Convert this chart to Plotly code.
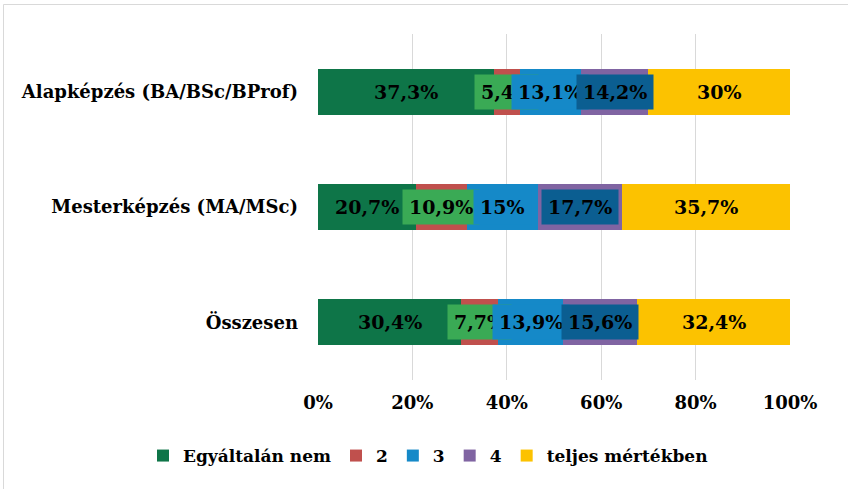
import plotly.graph_objects as go

categories = ["Alapképzés (BA/BSc/BProf)", "Mesterképzés (MA/MSc)", "Összesen"]
series_names = ["Egyáltalán nem", "2", "3", "4", "teljes mértékben"]
egyaltalan_nem = [37.3, 20.7, 30.4]
s2 = [5.4, 10.9, 7.7]
s3 = [13.1, 15.0, 13.9]
s4 = [14.2, 17.7, 15.6]
teljes = [30.0, 35.7, 32.4]
tick_vals = [0, 20, 40, 60, 80, 100]
tick_text = ["0%", "20%", "40%", "60%", "80%", "100%"]

values = [egyaltalan_nem, s2, s3, s4, teljes]
colors = ["#0E7548", "#C0504D", "#1589C8", "#8064A2", "#FCC200"]
label_bg = [None, "#3AAA55", "#1589C8", "#0B5E91", None]

FONT = "DejaVu Serif"

fig = go.Figure()
for name, vals, col in zip(series_names, values, colors):
    fig.add_trace(go.Bar(
        y=categories, x=vals, name="<b>" + name + "</b>", orientation="h",
        marker=dict(color=col, line=dict(width=0)),
        hoverinfo="skip",
    ))


def fmt(v):
    return f"{v:g}".replace(".", ",") + "%"


annotations = []
for ci, cat in enumerate(categories):
    cum = 0.0
    for si, vals in enumerate(values):
        v = vals[ci]
        center = cum + v / 2
        cum += v
        a = dict(x=center, y=cat, xref="x", yref="y", text="<b>" + fmt(v) + "</b>",
                 showarrow=False, font=dict(family=FONT, size=19, color="black"),
                 borderpad=6)
        if label_bg[si]:
            a["bgcolor"] = label_bg[si]
        annotations.append(a)

# layout geometry (pixels)
L, R, T, B = 318, 58, 34, 109
W, H = 848, 489
pw, ph = W - L - R, H - T - B
shapes = [dict(type="rect", xref="paper", yref="paper",
               x0=(3.5 - L) / pw, x1=(870 - L) / pw,
               y0=(H - B - 520) / ph, y1=(H - B - 4.5) / ph,
               line=dict(color="#D9D9D9", width=1), layer="below")]

fig.update_layout(
    width=W, height=H,
    barmode="stack", bargap=0.6,
    margin=dict(l=L, r=R, t=T, b=B, autoexpand=False),
    paper_bgcolor="white", plot_bgcolor="white",
    font=dict(family=FONT, color="black", size=17),
    xaxis=dict(range=[0, 100], tickvals=tick_vals, ticktext=["<b>" + t + "</b>" for t in tick_text],
               showgrid=True, gridcolor="#D9D9D9", gridwidth=1, zeroline=False,
               showline=False, ticks="", tickfont=dict(family=FONT, size=18),
               ticklabelstandoff=10, automargin=False, fixedrange=True),
    yaxis=dict(autorange="reversed", showgrid=False, showline=False, ticks="",
               ticklabelstandoff=19, automargin=False, fixedrange=True,
               tickvals=categories, ticktext=["<b>" + c + "</b>" for c in categories],
               tickfont=dict(family=FONT, size=18)),
    legend=dict(orientation="h", xref="paper", x=(143 - L) / pw, xanchor="left",
                yref="paper", y=(H - B - 456) / ph, yanchor="middle",
                font=dict(family=FONT, size=17), traceorder="normal",
                itemclick=False, itemdoubleclick=False, bgcolor="rgba(0,0,0,0)"),
    annotations=annotations,
    shapes=shapes,
    showlegend=True,
)

fig.write_html("out.html", config={"displayModeBar": False},
               post_script="document.body.style.margin='0';")
